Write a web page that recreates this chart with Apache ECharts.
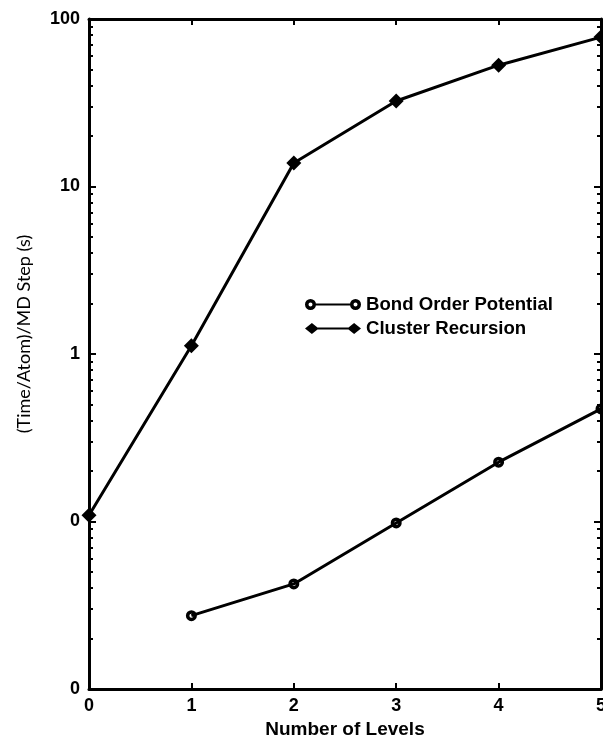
<!DOCTYPE html>
<html>
<head>
<meta charset="utf-8">
<script src="https://cdn.jsdelivr.net/npm/echarts@6/dist/echarts.min.js"></script>
<style>html,body{margin:0;padding:0;background:#fff}#c{width:603px;height:739px}</style>
</head>
<body>
<div id="c"></div>
<script>
const levels = [0, 1, 2, 3, 4, 5];
const clusterRecursion = [0.109, 1.12, 13.8, 32.4, 53, 78];
const bondOrderLevels = [1, 2, 3, 4, 5];
const bondOrderPotential = [0.0274, 0.0424, 0.098, 0.226, 0.47];
const yMajorTicks = [0.01, 0.1, 1, 10, 100];
const yTickLabels = ['0', '0', '1', '10', '100'];
const xTicks = [0, 1, 2, 3, 4, 5];
const yMinorTicks = [];
[0.01, 0.1, 1, 10].forEach(d => { for (let k = 2; k <= 9; k++) yMinorTicks.push(+(d * k).toPrecision(3)); });

const FONT = '"Liberation Sans", Arial, sans-serif';
const chart = echarts.init(document.getElementById('c'), null, {renderer: 'canvas'});

const ringSymbol = 'path://M0,5.5 A5.5,5.5 0 1 1 11,5.5 A5.5,5.5 0 1 1 0,5.5 Z M3.5,5.5 A2,2 0 1 0 7.5,5.5 A2,2 0 1 0 3.5,5.5 Z';
const bopIcon = 'path://M0.5,6 A5.5,5.5 0 1 1 11.5,6 A5.5,5.5 0 1 1 0.5,6 Z M4,6 A2,2 0 1 0 8,6 A2,2 0 1 0 4,6 Z M11,5 L46,5 L46,7 L11,7 Z M45.5,6 A5.5,5.5 0 1 1 56.5,6 A5.5,5.5 0 1 1 45.5,6 Z M49,6 A2,2 0 1 0 53,6 A2,2 0 1 0 49,6 Z';
const crIcon = 'path://M0,6 L7,0.5 L14,6 L7,11.5 Z M13,5 L44,5 L44,7 L13,7 Z M43,6 L50,0.5 L57,6 L50,11.5 Z';

function yAxisDef(pos, ticks, len, showLabel, showLine) {
  return {
    type: 'log', logBase: 10, min: 0.01, max: 100, position: pos,
    axisLine: {show: showLine, lineStyle: {color: '#000', width: 3}},
    axisTick: {show: true, inside: true, length: len, lineStyle: {color: '#000', width: 2}, customValues: ticks},
    axisLabel: showLabel ? {
      show: true, customValues: yMajorTicks, margin: 9,
      formatter: v => { const i = yMajorTicks.findIndex(t => Math.abs(Math.log10(t) - Math.log10(v)) < 1e-6); return i >= 0 ? yTickLabels[i] : ''; },
      color: '#000', fontFamily: FONT, fontWeight: 'bold', fontSize: 18
    } : {show: false},
    splitLine: {show: false},
    name: showLabel ? '(Time/Atom)/MD Step (s)' : '',
    nameLocation: 'middle', nameGap: 56,
    nameTextStyle: {color: '#000', fontFamily: 'Lato, "Open Sans", sans-serif', fontSize: 18, padding: [0, 0, 0, 40]}
  };
}

chart.setOption({
  animation: false,
  backgroundColor: '#fff',
  grid: {left: 89, right: 2, top: 19, bottom: 50, containLabel: false, outerBoundsMode: 'none'},
  legend: {
    orient: 'vertical', left: 300, top: 290, itemGap: 5,
    itemWidth: 56, itemHeight: 11,
    textStyle: {color: '#000', fontFamily: FONT, fontWeight: 'bold', fontSize: 18.6},
    itemStyle: {color: '#000', borderWidth: 0},
    data: [
      {name: 'Bond Order Potential', icon: bopIcon},
      {name: 'Cluster Recursion', icon: crIcon}
    ]
  },
  xAxis: [
    {
      type: 'value', min: 0, max: 5, interval: 1, position: 'bottom',
      axisLine: {show: true, onZero: false, lineStyle: {color: '#000', width: 3}},
      axisTick: {show: true, inside: true, length: 6, lineStyle: {color: '#000', width: 2}},
      axisLabel: {color: '#000', fontFamily: FONT, fontWeight: 'bold', fontSize: 18, margin: 8, formatter: v => String(v)},
      splitLine: {show: false},
      name: 'Number of Levels', nameLocation: 'middle', nameGap: 31,
      nameTextStyle: {color: '#000', fontFamily: FONT, fontWeight: 'bold', fontSize: 19}
    },
    {
      type: 'value', min: 0, max: 5, interval: 1, position: 'top',
      axisLine: {show: true, onZero: false, lineStyle: {color: '#000', width: 3}},
      axisTick: {show: true, inside: true, length: 6, lineStyle: {color: '#000', width: 2}},
      axisLabel: {show: false}, splitLine: {show: false}
    }
  ],
  yAxis: [
    yAxisDef('left', yMajorTicks, 7, true, true),
    yAxisDef('left', yMinorTicks, 4, false, false),
    yAxisDef('right', yMajorTicks, 7, false, true),
    yAxisDef('right', yMinorTicks, 4, false, false)
  ],
  series: [
    {
      name: 'Bond Order Potential', type: 'line', xAxisIndex: 0, yAxisIndex: 0,
      data: bondOrderLevels.map((x, i) => [x, bondOrderPotential[i]]),
      symbol: ringSymbol, symbolSize: 11,
      lineStyle: {color: '#000', width: 3},
      itemStyle: {color: '#000', borderWidth: 0},
      z: 3
    },
    {
      name: 'Cluster Recursion', type: 'line', xAxisIndex: 0, yAxisIndex: 0,
      data: levels.map((x, i) => [x, clusterRecursion[i]]),
      symbol: 'diamond', symbolSize: 15,
      lineStyle: {color: '#000', width: 3},
      itemStyle: {color: '#000'},
      z: 3
    }
  ]
});
</script>
</body>
</html>
